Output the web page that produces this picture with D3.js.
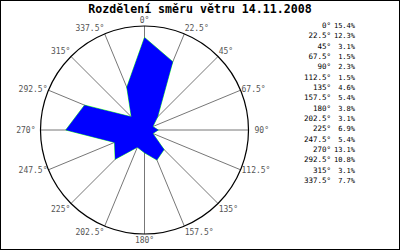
<!DOCTYPE html>
<html>
<head>
<meta charset="utf-8">
<script src="https://cdn.jsdelivr.net/npm/d3@7"></script>
<style>
  body { margin: 0; background: #fff; }
  svg { display: block; }
  text { font-family: 'DejaVu Sans Mono', monospace; }
</style>
</head>
<body>
<div class="chart"></div>
<script>
const title = 'Rozdělení směru větru 14.11.2008'
const directions = [0, 22.5, 45, 67.5, 90, 112.5, 135, 157.5, 180, 202.5, 225, 247.5, 270, 292.5, 315, 337.5]
const shares = [15.4, 12.3, 3.1, 1.5, 2.3, 1.5, 4.6, 5.4, 3.8, 3.1, 6.9, 5.4, 13.1, 10.8, 3.1, 7.7]

const width = 400, height = 250
const cx = 144.5, cy = 130, radius = 104

const svg = d3.select('.chart')
.append('svg')
.attr('width', width)
.attr('height', height)

svg.append('rect')
.attr('x', 0.5).attr('y', 0.5)
.attr('width', width - 1).attr('height', height - 1)
.attr('fill', '#fff')
.attr('stroke', '#000')

svg.append('text')
.attr('x', 200)
.attr('y', 13)
.attr('text-anchor', 'middle')
.attr('font-size', '11.6px')
.attr('font-weight', 'bold')
.text(title)

let rScale = d3.scaleLinear()
.domain([0, 17.3])
.range([0, radius])

let rad = d => d * Math.PI / 180

const g = svg.append('g').attr('transform', `translate(${cx},${cy})`)

// spokes
g.selectAll('.spoke')
.data(directions)
.enter()
.append('line')
.attr('x1', 0).attr('y1', 0)
.attr('x2', d => radius * Math.sin(rad(d)))
.attr('y2', d => -radius * Math.cos(rad(d)))
.attr('stroke', '#777')
.attr('stroke-width', 1)

// data polygon
let line = d3.lineRadial()
.angle((d, i) => rad(directions[i]))
.radius(d => rScale(d))
.curve(d3.curveLinearClosed)

g.append('path')
.attr('d', line(shares))
.attr('fill', 'none')
.attr('stroke', '#00ff00')
.attr('stroke-width', 0.8)

g.append('path')
.attr('d', line(shares))
.attr('fill', '#0000ff')

// outer circle
g.append('circle')
.attr('r', radius)
.attr('fill', 'none')
.attr('stroke', '#000')
.attr('stroke-width', 1.2)

// angle labels
g.selectAll('.lbl')
.data(directions)
.enter()
.append('text')
.attr('x', d => (radius + 1) * Math.sin(rad(d)))
.attr('y', d => -(radius + 2) * Math.cos(rad(d)))
.attr('text-anchor', d => Math.abs(Math.sin(rad(d))) < 0.01 ? 'middle' : (Math.sin(rad(d)) > 0 ? 'start' : 'end'))
.attr('dx', d => d === 90 ? 5 : d === 270 ? -4 : 0)
.attr('dy', d => {
	let c = Math.cos(rad(d))
	if(c > 0.5) return '-0.15em'
	if(c < -0.5) return '0.85em'
	return '0.35em'
})
.attr('font-size', '8px')
.attr('fill', '#555')
.text(d => d + '°')

// legend
const legend = svg.append('g')

legend.selectAll('.deg')
.data(directions)
.enter()
.append('text')
.attr('x', 331)
.attr('y', (d, i) => 28 + i * 10.33)
.attr('text-anchor', 'end')
.attr('font-size', '7.5px')
.text(d => d + '°')

legend.selectAll('.val')
.data(shares)
.enter()
.append('text')
.attr('x', 355)
.attr('y', (d, i) => 28 + i * 10.33)
.attr('text-anchor', 'end')
.attr('font-size', '7px')
.text(d => d.toFixed(1) + '%')
</script>
</body>
</html>
